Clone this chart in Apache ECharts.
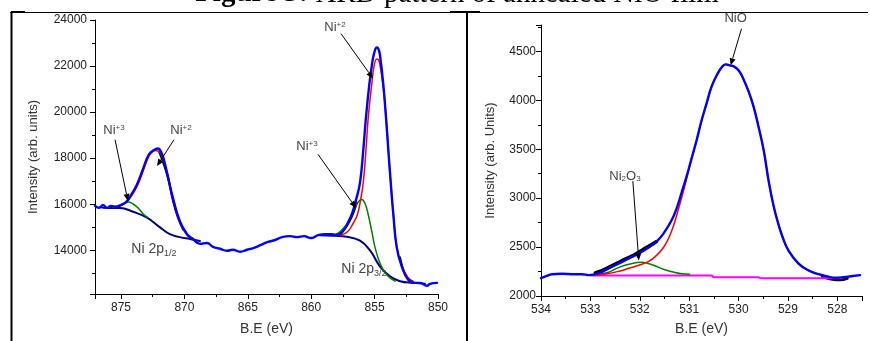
<!DOCTYPE html>
<html><head><meta charset="utf-8">
<script src="https://cdn.jsdelivr.net/npm/echarts@6/dist/echarts.min.js"></script>
<style>html,body{margin:0;padding:0;background:#fff}#c{width:870px;height:341px}</style>
</head><body><div id="c"></div>
<script>
// ---------- Data (binding energy eV, intensity) ----------
const titleBold = 'Figure 3:';
const titleRest = ' XRD pattern of annealed NiO film';

// Left panel: Ni 2p
const leftBlue = [[877.05,15925],[876.73,15840],[876.42,15967],[876.1,15840],[875.79,15925],[875.39,15882],[875.0,15967],[874.6,16094],[874.21,16390],[873.74,16855],[873.26,17531],[872.79,18165],[872.32,18377],[872.08,18419],[871.85,18292],[871.61,17912],[871.37,17362],[870.9,16263],[870.35,15248],[869.79,14698],[869.32,14487],[868.77,14276],[868.22,14318],[867.74,14149],[867.19,14064],[866.64,13980],[866.17,14022],[865.61,13937],[865.06,14022],[864.51,14107],[863.96,14234],[863.41,14360],[862.85,14445],[862.3,14571],[861.67,14614],[861.12,14571],[860.57,14614],[860.02,14529],[859.46,14656],[858.91,14698],[858.36,14698],[857.97,14656],[857.49,14825],[857.1,15206],[856.78,15586],[856.47,16178],[856.15,16939],[855.89,18364],[855.68,19772],[855.42,21180],[855.2,22097],[855.02,22592],[854.83,22803],[854.69,22732],[854.57,22448],[854.31,21180],[854.1,19772],[853.92,18377],[853.73,16952],[853.52,15544],[853.26,14149],[852.86,13303],[852.34,12711],[851.81,12584],[851.42,12584],[850.87,12457],[850.63,12542],[850.08,12584]];
const leftBlack1 = [[872.0,18280],[871.7,17850],[871.3,17150],[870.9,16150],[870.5,15400],[870.1,14900]];
const leftBlack2 = [[858.0,14700],[857.6,14800],[857.2,15050],[856.8,15450],[856.4,16050]];
const leftBlack3 = [[853.0,13700],[852.7,13100],[852.4,12800],[852.0,12650]];
const leftRed1 = [[875.63,15882],[875.08,15925],[874.68,16051],[874.29,16263],[873.9,16601],[873.5,17066],[873.11,17658],[872.71,18165],[872.32,18335],[871.93,18250],[871.61,17827],[871.29,17235],[870.9,16221],[870.35,15206],[869.79,14656],[869.32,14487]];
const leftRed2 = [[858.12,14656],[857.57,14677],[857.1,14825],[856.78,15079],[856.36,15544],[856.11,16178],[855.89,16952],[855.68,18364],[855.5,19772],[855.23,21180],[855.05,21971],[854.83,22309],[854.69,22266],[854.57,22026],[854.31,21040],[854.1,19772],[853.92,18377],[853.73,16952],[853.52,15544],[853.26,14149],[852.86,13303],[852.34,12796],[851.97,12627]];
const leftGreen1 = [[875.63,15882],[875.08,15967],[874.68,16051],[874.45,16094],[874.05,16009],[873.66,15840],[873.26,15586],[872.87,15417]];
const leftGreen2 = [[858.12,14627],[857.2,15121],[856.68,15683],[856.28,16106],[856.02,16208],[855.76,16039],[855.5,15544],[855.23,14838],[854.97,14136],[854.57,13430],[854.05,12935],[853.39,12656]];
const leftNavy1 = [[876.66,15882],[876.1,15840],[875.08,15840],[874.05,15671],[872.95,15417],[871.92,14994],[871.14,14698],[870.35,14571],[869.56,14487],[868.77,14402]];
const leftNavy2 = [[859.31,14656],[858.28,14627],[857.2,14584],[856.15,14415],[855.36,13992],[854.57,13290],[853.78,12867],[852.99,12656],[851.95,12584],[851.03,12542]];

// Right panel: O 1s
const rightBlue = [[534.0,2182],[533.9,2202],[533.78,2223],[533.58,2228],[533.33,2223],[533.17,2223],[533.03,2213],[532.83,2233],[532.63,2283],[532.42,2334],[532.22,2385],[532.02,2435],[531.82,2496],[531.66,2557],[531.52,2638],[531.35,2779],[531.25,2901],[531.15,3063],[531.05,3225],[530.95,3407],[530.85,3589],[530.75,3791],[530.65,3963],[530.55,4135],[530.44,4257],[530.34,4338],[530.26,4368],[530.18,4358],[530.1,4348],[530.0,4307],[529.9,4216],[529.8,4095],[529.7,3943],[529.6,3741],[529.49,3488],[529.39,3174],[529.29,2921],[529.19,2729],[529.09,2577],[528.99,2466],[528.79,2334],[528.59,2263],[528.38,2223],[528.18,2197],[528.04,2187],[527.88,2192],[527.72,2202],[527.54,2213]];
const rightBlack = [[532.9,2235],[532.7,2275],[532.4,2350],[532.1,2425],[531.85,2500],[531.66,2557]];
const rightBlack2 = [[528.3,2200],[528.1,2170],[527.95,2165],[527.8,2180]];
const rightRed = [[532.99,2213],[532.73,2223],[532.42,2253],[532.22,2283],[532.02,2314],[531.82,2354],[531.66,2415],[531.52,2496],[531.41,2597],[531.31,2729],[531.21,2901],[531.11,3083],[531.01,3285],[530.95,3407],[530.85,3589],[530.75,3791],[530.65,3963],[530.55,4135],[530.44,4257],[530.34,4338],[530.26,4368],[530.18,4358],[530.1,4348],[530.0,4307],[529.9,4216],[529.8,4095],[529.7,3943],[529.6,3741],[529.49,3488],[529.39,3174],[529.29,2921],[529.19,2729],[529.09,2577],[528.99,2466],[528.79,2334],[528.59,2263],[528.38,2223],[528.18,2200]];
const rightGreen = [[532.99,2213],[532.83,2223],[532.63,2243],[532.42,2293],[532.22,2324],[531.96,2344],[531.72,2314],[531.52,2273],[531.31,2243],[531.15,2228],[530.99,2223]];
const rightMagenta = [[533.0,2209],[530.55,2209],[530.5,2192],[529.6,2192],[529.55,2182],[527.9,2182]];

// Axis ticks
const leftXTicks = [850, 855, 860, 865, 870, 875];
const leftYTicks = [14000, 16000, 18000, 20000, 22000, 24000];
const rightXTicks = [528, 529, 530, 531, 532, 533, 534];
const rightYTicks = [2000, 2500, 3000, 3500, 4000, 4500];

// Annotations (data coordinates): label text, label position, arrow from -> to
const leftLabels = [
  {t:'Ni{sup|+2}', p:[858.12,23662]},
  {t:'Ni{sup|+3}', p:[860.33,18503]},
  {t:'Ni{sup|+3}', p:[875.55,19222]},
  {t:'Ni{sup|+2}', p:[870.27,19222]},
  {t:'{big|Ni 2p}{sub|1/2}', p:[872.4,14064]},
  {t:'{big|Ni 2p}{sub|3/2}', p:[855.84,13176]}
];
const leftArrows = [
  [[857.65,23408],[855.13,21463]],
  [[859.46,18165],[856.47,15840]],
  [[875.47,18800],[874.45,16136]],
  [[870.82,18800],[872.16,17658]]
];
const rightLabels = [
  {t:'NiO', p:[530.06,4834]},
  {t:'Ni{sub2|2}O{sub2|3}', p:[532.3,3225]}
];
const rightArrows = [
  [[529.94,4732],[530.16,4358]],
  [[532.14,3174],[532.02,2364]]
];

// ---------- Chart ----------
const chart = echarts.init(document.getElementById('c'), null, {renderer:'canvas'});
const FONT = 'Liberation Sans';
function ln(data, color, width, idx, z) {
  return {type:'line', data, xAxisIndex:idx, yAxisIndex:idx, showSymbol:false, symbol:'none',
    smooth:0.45, lineStyle:{color, width, cap:'round', join:'round'}, z, silent:true, animation:false};
}
function xAxis(idx, min, max, ticks, nameGap) {
  return {gridIndex:idx, type:'value', inverse:true, min, max,
    axisLine:{show:true, onZero:false, lineStyle:{color:'#000', width:1}},
    axisTick:{show:true, length:5, lineStyle:{color:'#000'}},
    minorTick:{show:true, splitNumber:2, length:3, lineStyle:{color:'#000'}},
    splitLine:{show:false}, minorSplitLine:{show:false},
    axisLabel:{fontFamily:FONT, fontSize:12, color:'#222', margin:8,
      formatter: v => ticks.some(t => Math.abs(t - v) < 1e-6) ? String(v) : ''},
    name:'B.E (eV)', nameLocation:'middle', nameGap,
    nameTextStyle:{fontFamily:FONT, fontSize:14, color:'#333'}};
}
function yAxis(idx, min, max, ticks, name, nameGap, margin) {
  return {gridIndex:idx, type:'value', min, max,
    axisLine:{show:true, onZero:false, lineStyle:{color:'#000', width:1}},
    axisTick:{show:true, length:5, lineStyle:{color:'#000'}},
    minorTick:{show:true, splitNumber:2, length:3, lineStyle:{color:'#000'}},
    splitLine:{show:false}, minorSplitLine:{show:false},
    axisLabel:{fontFamily:FONT, fontSize:12, color:'#222', margin,
      formatter: v => ticks.some(t => Math.abs(t - v) < 1e-6) ? String(v) : ''},
    name, nameLocation:'middle', nameGap,
    nameTextStyle:{fontFamily:FONT, fontSize:13, color:'#333'}};
}

const option = {
  backgroundColor:'#fff',
  animation:false,
  grid:[
    {left:95, top:20, width:343, height:281},
    {left:541, top:25, width:321, height:274}
  ],
  xAxis:[ xAxis(0, 850, 877.05, leftXTicks, 28), xAxis(1, 527.5, 534, rightXTicks, 26) ],
  yAxis:[ yAxis(0, 12100, 24000, leftYTicks, 'Intensity (arb. units)', 55, 8),
          yAxis(1, 2000, 4770, rightYTicks, 'Intensity (arb. Units)', 44, 5) ],
  series:[
    ln(leftBlack1, '#000', 2, 0, 1), ln(leftBlack2, '#000', 2, 0, 1), ln(leftBlack3, '#000', 2, 0, 1),
    ln(leftNavy1, '#000080', 2, 0, 2), ln(leftNavy2, '#000080', 2, 0, 2),
    ln(leftGreen1, '#008000', 1.5, 0, 3), ln(leftGreen2, '#008000', 1.5, 0, 3),
    ln(leftRed1, '#ff0000', 1.5, 0, 4), ln(leftRed2, '#ff0000', 1.5, 0, 4),
    ln(leftBlue, '#0000ff', 2.4, 0, 5),
    ln(rightBlack, '#000', 3.5, 1, 1), ln(rightBlack2, '#000', 3, 1, 1),
    ln(rightMagenta, '#ff00ff', 2, 1, 2),
    ln(rightGreen, '#008000', 1.5, 1, 3),
    ln(rightRed, '#ff0000', 1.5, 1, 4),
    ln(rightBlue, '#0000ff', 2.4, 1, 5)
  ]
};
chart.setOption(option);

// ---------- Annotations & frame ----------
const richAnn = {
  sup:{fontFamily:FONT, fontSize:8, verticalAlign:'top', lineHeight:10, fill:'#444'},
  sub:{fontFamily:FONT, fontSize:9, verticalAlign:'bottom', lineHeight:10, fill:'#444'},
  sub2:{fontFamily:FONT, fontSize:8, verticalAlign:'bottom', lineHeight:10, fill:'#444'},
  big:{fontFamily:FONT, fontSize:14, lineHeight:18, fill:'#444'}
};
const gfx = [];
function addLabels(labels, gi) {
  labels.forEach(l => {
    const p = chart.convertToPixel({gridIndex:gi}, l.p);
    gfx.push({type:'text', z:100, silent:true, style:{text:l.t, x:p[0], y:p[1], align:'center', verticalAlign:'middle',
      fontFamily:FONT, fontSize:13, fill:'#444', rich:richAnn}});
  });
}
function addArrows(arrows, gi) {
  arrows.forEach(a => {
    const p1 = chart.convertToPixel({gridIndex:gi}, a[0]);
    const p2 = chart.convertToPixel({gridIndex:gi}, a[1]);
    let dx = p2[0]-p1[0], dy = p2[1]-p1[1];
    const L = Math.hypot(dx, dy); dx /= L; dy /= L;
    const hl = 7, hw = 3;
    const bx = p2[0]-dx*hl, by = p2[1]-dy*hl;
    gfx.push({type:'line', z:100, silent:true, shape:{x1:p1[0], y1:p1[1], x2:bx, y2:by}, style:{stroke:'#000', lineWidth:1}});
    gfx.push({type:'polygon', z:100, silent:true, shape:{points:[[p2[0],p2[1]],[bx-dy*hw, by+dx*hw],[bx+dy*hw, by-dx*hw]]}, style:{fill:'#000'}});
  });
}
addLabels(leftLabels, 0); addArrows(leftArrows, 0);
addLabels(rightLabels, 1); addArrows(rightArrows, 1);

// page frame and cropped caption
gfx.push({type:'line', silent:true, shape:{x1:10, y1:12.5, x2:868, y2:12.5}, style:{stroke:'#000', lineWidth:1}});
gfx.push({type:'line', silent:true, shape:{x1:11, y1:12, x2:25, y2:12}, style:{stroke:'#000', lineWidth:2}});
gfx.push({type:'line', silent:true, shape:{x1:450, y1:12, x2:480, y2:12}, style:{stroke:'#000', lineWidth:2}});
gfx.push({type:'line', silent:true, shape:{x1:11.5, y1:12, x2:11.5, y2:341}, style:{stroke:'#000', lineWidth:2}});
gfx.push({type:'line', silent:true, shape:{x1:467, y1:12, x2:467, y2:341}, style:{stroke:'#000', lineWidth:2}});
gfx.push({type:'text', silent:true, style:{text:'{b|' + titleBold + '}{n|' + titleRest + '}', x:457, y:-6, align:'center', verticalAlign:'middle',
  fontFamily:'Liberation Serif', fontSize:29, fill:'#000',
  rich:{b:{fontFamily:'Liberation Serif', fontSize:29, lineHeight:32, fontWeight:'bold', fill:'#000'},
        n:{fontFamily:'Liberation Serif', fontSize:29, lineHeight:32, fill:'#000'}}}});

chart.setOption({graphic:gfx});
</script>
</body></html>
